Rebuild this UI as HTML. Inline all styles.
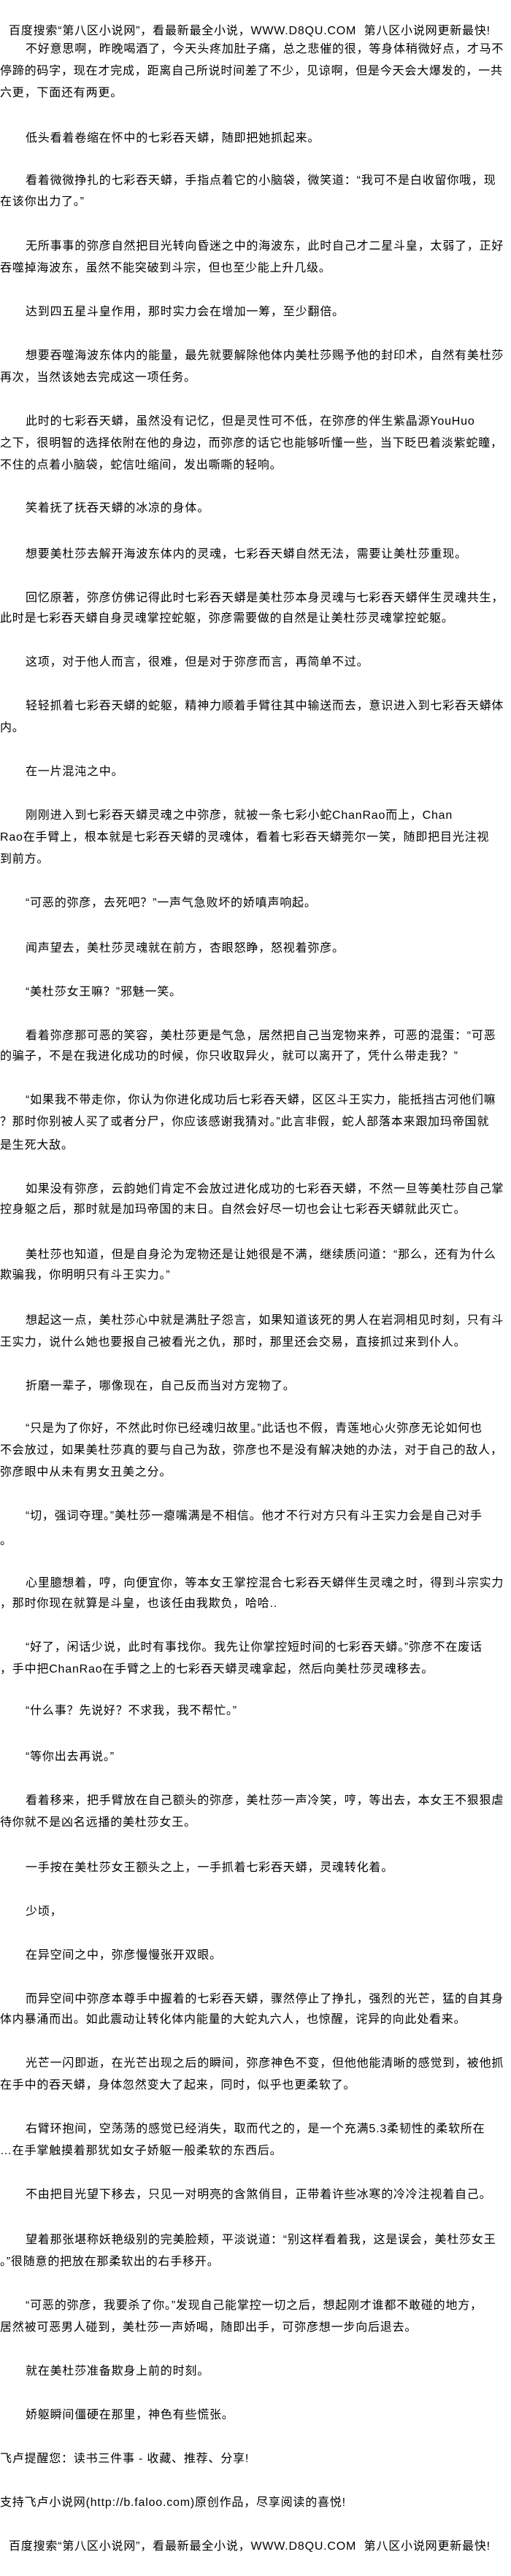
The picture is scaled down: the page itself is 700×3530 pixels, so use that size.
<!DOCTYPE html>
<html><head><meta charset="utf-8">
<style>
html,body{margin:0;padding:0;background:#fff;}
body{width:700px;height:3530px;position:relative;overflow:hidden;}
div{position:absolute;left:0;white-space:nowrap;line-height:30px;height:30px;font-size:16px;letter-spacing:0.8px;color:#000;font-family:"Liberation Sans","Noto Sans CJK SC","WenQuanYi Zen Hei",sans-serif;}
.i{left:35px;}
.h{left:12px;}
</style></head><body>
<div class="h" style="top:28px">百度搜索“第八区小说网”，看最新最全小说，WWW.D8QU.COM&nbsp;&nbsp;第八区小说网更新最快!</div>
<div class="i" style="top:53px">不好意思啊，昨晚喝酒了，今天头疼加肚子痛，总之悲催的很，等身体稍微好点，才马不</div>
<div style="top:83px">停蹄的码字，现在才完成，距离自己所说时间差了不少，见谅啊，但是今天会大爆发的，一共</div>
<div style="top:113px">六更，下面还有两更。</div>
<div class="i" style="top:175px">低头看着卷缩在怀中的七彩吞天蟒，随即把她抓起来。</div>
<div class="i" style="top:233px">看着微微挣扎的七彩吞天蟒，手指点着它的小脑袋，微笑道：“我可不是白收留你哦，现</div>
<div style="top:262px">在该你出力了。”</div>
<div class="i" style="top:323px">无所事事的弥彦自然把目光转向昏迷之中的海波东，此时自己才二星斗皇，太弱了，正好</div>
<div style="top:353px">吞噬掉海波东，虽然不能突破到斗宗，但也至少能上升几级。</div>
<div class="i" style="top:413px">达到四五星斗皇作用，那时实力会在增加一筹，至少翻倍。</div>
<div class="i" style="top:473px">想要吞噬海波东体内的能量，最先就要解除他体内美杜莎赐予他的封印术，自然有美杜莎</div>
<div style="top:503px">再次，当然该她去完成这一项任务。</div>
<div class="i" style="top:563px">此时的七彩吞天蟒，虽然没有记忆，但是灵性可不低，在弥彦的伴生紫晶源YouHuo</div>
<div style="top:593px">之下，很明智的选择依附在他的身边，而弥彦的话它也能够听懂一些，当下眨巴着淡紫蛇瞳，</div>
<div style="top:623px">不住的点着小脑袋，蛇信吐缩间，发出嘶嘶的轻响。</div>
<div class="i" style="top:682px">笑着抚了抚吞天蟒的冰凉的身体。</div>
<div class="i" style="top:745px">想要美杜莎去解开海波东体内的灵魂，七彩吞天蟒自然无法，需要让美杜莎重现。</div>
<div class="i" style="top:805px">回忆原著，弥彦仿佛记得此时七彩吞天蟒是美杜莎本身灵魂与七彩吞天蟒伴生灵魂共生，</div>
<div style="top:833px">此时是七彩吞天蟒自身灵魂掌控蛇躯，弥彦需要做的自然是让美杜莎灵魂掌控蛇躯。</div>
<div class="i" style="top:893px">这项，对于他人而言，很难，但是对于弥彦而言，再简单不过。</div>
<div class="i" style="top:953px">轻轻抓着七彩吞天蟒的蛇躯，精神力顺着手臂往其中输送而去，意识进入到七彩吞天蟒体</div>
<div style="top:983px">内。</div>
<div class="i" style="top:1043px">在一片混沌之中。</div>
<div class="i" style="top:1103px">刚刚进入到七彩吞天蟒灵魂之中弥彦，就被一条七彩小蛇ChanRao而上，Chan</div>
<div style="top:1133px">Rao在手臂上，根本就是七彩吞天蟒的灵魂体，看着七彩吞天蟒莞尔一笑，随即把目光注视</div>
<div style="top:1163px">到前方。</div>
<div class="i" style="top:1223px">“可恶的弥彦，去死吧？”一声气急败坏的娇嗔声响起。</div>
<div class="i" style="top:1285px">闻声望去，美杜莎灵魂就在前方，杏眼怒睁，怒视着弥彦。</div>
<div class="i" style="top:1345px">“美杜莎女王嘛？”邪魅一笑。</div>
<div class="i" style="top:1405px">看着弥彦那可恶的笑容，美杜莎更是气急，居然把自己当宠物来养，可恶的混蛋：“可恶</div>
<div style="top:1433px">的骗子，不是在我进化成功的时候，你只收取异火，就可以离开了，凭什么带走我？”</div>
<div class="i" style="top:1493px">“如果我不带走你，你认为你进化成功后七彩吞天蟒，区区斗王实力，能抵挡古河他们嘛</div>
<div style="top:1523px">？那时你别被人买了或者分尸，你应该感谢我猜对。”此言非假，蛇人部落本来跟加玛帝国就</div>
<div style="top:1555px">是生死大敌。</div>
<div class="i" style="top:1615px">如果没有弥彦，云韵她们肯定不会放过进化成功的七彩吞天蟒，不然一旦等美杜莎自己掌</div>
<div style="top:1643px">控身躯之后，那时就是加玛帝国的末日。自然会好尽一切也会让七彩吞天蟒就此灭亡。</div>
<div class="i" style="top:1705px">美杜莎也知道，但是自身沦为宠物还是让她很是不满，继续质问道：“那么，还有为什么</div>
<div style="top:1733px">欺骗我，你明明只有斗王实力。”</div>
<div class="i" style="top:1795px">想起这一点，美杜莎心中就是满肚子怨言，如果知道该死的男人在岩洞相见时刻，只有斗</div>
<div style="top:1825px">王实力，说什么她也要报自己被看光之仇，那时，那里还会交易，直接抓过来到仆人。</div>
<div class="i" style="top:1885px">折磨一辈子，哪像现在，自己反而当对方宠物了。</div>
<div class="i" style="top:1943px">“只是为了你好，不然此时你已经魂归故里。”此话也不假，青莲地心火弥彦无论如何也</div>
<div style="top:1973px">不会放过，如果美杜莎真的要与自己为敌，弥彦也不是没有解决她的办法，对于自己的敌人，</div>
<div style="top:2003px">弥彦眼中从未有男女丑美之分。</div>
<div class="i" style="top:2063px">“切，强词夺理。”美杜莎一瘪嘴满是不相信。他才不行对方只有斗王实力会是自己对手</div>
<div style="top:2097px">。</div>
<div class="i" style="top:2155px">心里臆想着，哼，向便宜你，等本女王掌控混合七彩吞天蟒伴生灵魂之时，得到斗宗实力</div>
<div style="top:2183px">，那时你现在就算是斗皇，也该任由我欺负，哈哈..</div>
<div class="i" style="top:2243px">“好了，闲话少说，此时有事找你。我先让你掌控短时间的七彩吞天蟒。”弥彦不在废话</div>
<div style="top:2273px">，手中把ChanRao在手臂之上的七彩吞天蟒灵魂拿起，然后向美杜莎灵魂移去。</div>
<div class="i" style="top:2330px">“什么事？先说好？不求我，我不帮忙。”</div>
<div class="i" style="top:2393px">“等你出去再说。”</div>
<div class="i" style="top:2453px">看着移来，把手臂放在自己额头的弥彦，美杜莎一声冷笑，哼，等出去，本女王不狠狠虐</div>
<div style="top:2483px">待你就不是凶名远播的美杜莎女王。</div>
<div class="i" style="top:2545px">一手按在美杜莎女王额头之上，一手抓着七彩吞天蟒，灵魂转化着。</div>
<div class="i" style="top:2605px">少顷，</div>
<div class="i" style="top:2665px">在异空间之中，弥彦慢慢张开双眼。</div>
<div class="i" style="top:2725px">而异空间中弥彦本尊手中握着的七彩吞天蟒，骤然停止了挣扎，强烈的光芒，猛的自其身</div>
<div style="top:2753px">体内暴涌而出。如此震动让转化体内能量的大蛇丸六人，也惊醒，诧异的向此处看来。</div>
<div class="i" style="top:2813px">光芒一闪即逝，在光芒出现之后的瞬间，弥彦神色不变，但他他能清晰的感觉到，被他抓</div>
<div style="top:2843px">在手中的吞天蟒，身体忽然变大了起来，同时，似乎也更柔软了。</div>
<div class="i" style="top:2903px">右臂环抱间，空荡荡的感觉已经消失，取而代之的，是一个充满5.3柔韧性的柔软所在</div>
<div style="top:2933px">…在手掌触摸着那犹如女子娇躯一般柔软的东西后。</div>
<div class="i" style="top:2993px">不由把目光望下移去，只见一对明亮的含煞俏目，正带着许些冰寒的冷冷注视着自己。</div>
<div class="i" style="top:3055px">望着那张堪称妖艳级别的完美脸颊，平淡说道：“别这样看着我，这是误会，美杜莎女王</div>
<div style="top:3085px">。”很随意的把放在那柔软出的右手移开。</div>
<div class="i" style="top:3145px">“可恶的弥彦，我要杀了你。”发现自己能掌控一切之后，想起刚才谁都不敢碰的地方，</div>
<div style="top:3175px">居然被可恶男人碰到，美杜莎一声娇喝，随即出手，可弥彦想一步向后退去。</div>
<div class="i" style="top:3235px">就在美杜莎准备欺身上前的时刻。</div>
<div class="i" style="top:3295px">娇躯瞬间僵硬在那里，神色有些慌张。</div>
<div style="top:3355px">飞卢提醒您：读书三件事 - 收藏、推荐、分享!</div>
<div style="top:3415px">支持飞卢小说网(http://b.faloo.com)原创作品，尽享阅读的喜悦!</div>
<div class="h" style="top:3475px">百度搜索“第八区小说网”，看最新最全小说，WWW.D8QU.COM&nbsp;&nbsp;第八区小说网更新最快!</div>
</body></html>
